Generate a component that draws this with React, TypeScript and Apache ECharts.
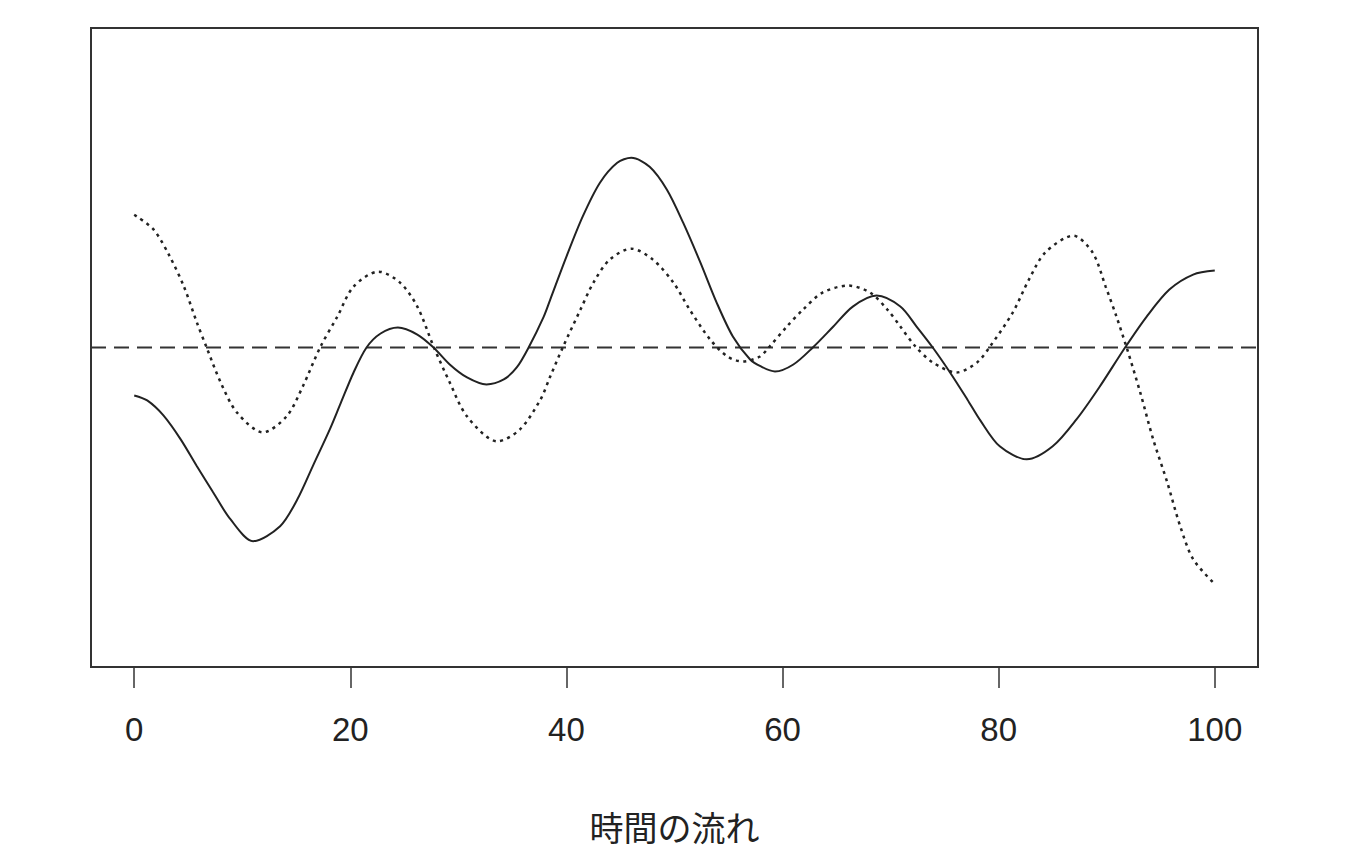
import React, { useEffect, useRef } from "react";
import * as echarts from "echarts";

const xTicks = [0, 20, 40, 60, 80, 100];
const axisTitle = "時間の流れ";

const solidX = [0, 1.2, 2.7, 4.3, 5.8, 7.3, 8.9, 11.0, 13.5, 15.1, 16.6, 18.1, 19.1, 20.3, 21.5, 22.8, 24.4, 26.2, 27.7, 29.2, 30.8, 32.6, 34.2, 35.4, 36.5, 37.9, 38.5, 40.0, 41.5, 43.1, 44.7, 46.0, 47.7, 49.3, 50.8, 52.4, 53.9, 55.4, 57.0, 58.0, 59.3, 61.0, 62.8, 64.7, 66.5, 68.7, 70.9, 72.4, 73.9, 75.5, 77.1, 78.3, 80.1, 82.6, 85.0, 87.2, 89.3, 91.7, 93.7, 95.8, 98.0, 100];
const solidY = [-0.48, -0.53, -0.68, -0.92, -1.19, -1.45, -1.72, -1.94, -1.79, -1.52, -1.17, -0.82, -0.56, -0.25, 0, 0.14, 0.2, 0.13, 0, -0.17, -0.3, -0.37, -0.32, -0.2, 0, 0.31, 0.48, 0.91, 1.31, 1.65, 1.85, 1.9, 1.81, 1.58, 1.25, 0.85, 0.45, 0.11, -0.12, -0.19, -0.24, -0.17, 0, 0.21, 0.41, 0.52, 0.41, 0.21, 0, -0.25, -0.52, -0.73, -0.99, -1.12, -0.99, -0.72, -0.4, 0, 0.31, 0.58, 0.73, 0.77];

const dottedX = [0, 1.8, 3.3, 4.6, 5.8, 6.7, 8.0, 9.5, 11.9, 14.1, 15.6, 17.2, 18.8, 20.3, 22.6, 24.6, 26.2, 27.7, 29.2, 30.8, 33.6, 35.7, 37.6, 38.5, 39.7, 41.3, 42.5, 44.0, 46.0, 48.0, 49.9, 51.4, 53.3, 54.9, 56.3, 57.9, 58.8, 60.4, 61.9, 63.7, 66.1, 68.1, 69.7, 70.9, 72.3, 73.9, 76.1, 78.0, 79.2, 81.3, 82.8, 84.3, 86.9, 88.7, 89.9, 90.9, 91.9, 93.1, 94.3, 95.6, 96.8, 98.0, 100];
const dottedY = [1.33, 1.18, 0.91, 0.61, 0.25, 0, -0.35, -0.65, -0.85, -0.69, -0.39, 0, 0.31, 0.61, 0.76, 0.65, 0.41, 0.01, -0.35, -0.69, -0.94, -0.82, -0.52, -0.29, 0.01, 0.38, 0.65, 0.88, 0.99, 0.88, 0.65, 0.38, 0.08, -0.09, -0.14, -0.09, 0.01, 0.21, 0.38, 0.55, 0.62, 0.55, 0.38, 0.21, 0.01, -0.15, -0.25, -0.15, 0.01, 0.35, 0.68, 0.95, 1.12, 0.95, 0.61, 0.31, -0.02, -0.45, -0.92, -1.35, -1.79, -2.12, -2.37];

const baselineX = [-4, 104];
const baselineY = [0, 0];

const pairs = (xs: number[], ys: number[]) => xs.map((x, i) => [x, ys[i]]);

export default function App() {
  const ref = useRef<HTMLDivElement>(null);
  useEffect(() => {
    const chart = echarts.init(ref.current!, null, { renderer: "svg" });
    chart.setOption({
      animation: false,
      backgroundColor: "#ffffff",
      grid: {
        left: 91,
        right: 99,
        top: 28,
        bottom: 193,
        show: true,
        borderColor: "#333333",
        borderWidth: 2,
        backgroundColor: "transparent",
      },
      xAxis: {
        type: "value",
        min: -4,
        max: 104,
        axisLine: { show: false, onZero: false },
        splitLine: { show: false },
        axisTick: {
          show: true,
          length: 21,
          customValues: xTicks,
          lineStyle: { color: "#333333", width: 1.5 },
        },
        axisLabel: {
          customValues: xTicks,
          fontSize: 33,
          color: "#222222",
          margin: 46,
          fontFamily: "Liberation Sans, Arial, sans-serif",
        },
        name: axisTitle,
        nameLocation: "middle",
        nameGap: 142,
        nameTextStyle: {
          fontSize: 34,
          color: "#222222",
          fontFamily: "Noto Sans CJK JP, sans-serif",
        },
      },
      yAxis: {
        type: "value",
        min: -3.2,
        max: 3.2,
        show: false,
      },
      series: [
        {
          type: "line",
          data: pairs(baselineX, baselineY),
          symbol: "none",
          silent: true,
          lineStyle: { color: "#333333", width: 2, type: [15, 8] },
        },
        {
          type: "line",
          data: pairs(solidX, solidY),
          symbol: "none",
          smooth: 0.3,
          silent: true,
          lineStyle: { color: "#222222", width: 2 },
        },
        {
          type: "line",
          data: pairs(dottedX, dottedY),
          symbol: "none",
          smooth: 0.3,
          silent: true,
          lineStyle: { color: "#222222", width: 2.5, type: [3, 4.5] },
        },
      ],
    });
    return () => chart.dispose();
  }, []);
  return (
    <div
      ref={ref}
      style={{ position: "fixed", left: 0, top: 0, width: 1357, height: 860, background: "#fff" }}
    />
  );
}
